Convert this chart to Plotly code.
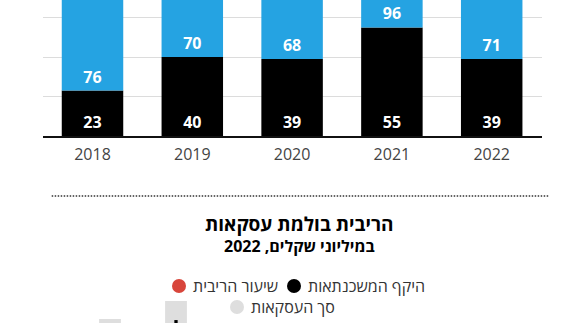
import plotly.graph_objects as go

W, H = 582, 323

# ---- top chart data ----
years = ["2018", "2019", "2020", "2021", "2022"]
mortgage_vals = [23, 40, 39, 55, 39]
deals_vals = [76, 70, 68, 96, 71]

# ---- bottom chart data (only the tops of the first bars are visible) ----
bottom_cats = ["1", "2", "3", "4", "5", "6", "7"]
bottom_total = [82.9, 95.7, 70, 66, 62, 58, 54]
bottom_mortgage = [60, 82.1, 50, 48, 45, 42, 40]
bottom_rate = [30, 35, 40, 45, 50, 55, 60]

# ---- texts ----
title_text = "הריבית בולמת עסקאות"
subtitle_text = "במיליוני שקלים, 2022"
legend_items = [
    ("שיעור הריבית", "#d8453b"),
    ("היקף המשכנתאות", "#000000"),
    ("סך העסקאות", "#dedede"),
]

BLUE = "#25a3e2"
FONT = "Open Sans, Liberation Sans, DejaVu Sans, sans-serif"

def px(x):
    return x / W

def py(y):
    return 1 - y / H

fig = go.Figure()

fig.add_trace(go.Bar(
    x=years, y=mortgage_vals, marker=dict(color="#000000", line=dict(width=0)),
    text=[str(v) for v in mortgage_vals], textposition="inside", insidetextanchor="start",
    textangle=0, textfont=dict(color="white", size=16, family=FONT, weight="bold"),
    width=0.616, xaxis="x", yaxis="y", showlegend=False, hoverinfo="skip",
))
fig.add_trace(go.Bar(
    x=years, y=deals_vals, base=mortgage_vals, marker=dict(color=BLUE, line=dict(width=0)),
    text=[str(v) for v in deals_vals], textposition="inside", insidetextanchor="start",
    textangle=0, textfont=dict(color="white", size=16, family=FONT, weight="bold"),
    width=0.616, xaxis="x", yaxis="y", showlegend=False, hoverinfo="skip",
))

# bottom chart
fig.add_trace(go.Bar(
    x=bottom_cats, y=bottom_total, marker=dict(color="#dedede", line=dict(width=0)),
    width=0.33, xaxis="x2", yaxis="y2", showlegend=False, hoverinfo="skip",
))
fig.add_trace(go.Bar(
    x=bottom_cats, y=bottom_mortgage, marker=dict(color="#000000", line=dict(width=0)),
    width=0.05, xaxis="x2", yaxis="y2", showlegend=False, hoverinfo="skip",
))
fig.add_trace(go.Scatter(
    x=bottom_cats, y=bottom_rate, mode="lines", line=dict(color="#d8453b", width=2),
    xaxis="x2", yaxis="y2", showlegend=False, hoverinfo="skip",
))

fig.update_layout(
    width=W, height=H, margin=dict(l=0, r=0, t=0, b=0),
    paper_bgcolor="white", plot_bgcolor="white",
    barmode="overlay",
    font=dict(family=FONT),
    xaxis=dict(domain=[px(42.6), px(541.6)], type="category", showgrid=False,
               showline=True, linecolor="#111", linewidth=2,
               ticks="outside", ticklen=3, tickcolor="rgba(0,0,0,0)",
               tickfont=dict(size=16, color="#444", family=FONT), anchor="y"),
    yaxis=dict(domain=[py(136), 1], range=[0, 68.9], showgrid=True, gridcolor="#dcdcdc",
               gridwidth=1, dtick=20, showticklabels=False, zeroline=False,
               showline=False, anchor="x"),
    xaxis2=dict(domain=[px(77), px(539)], type="category", showgrid=False,
                showticklabels=False, showline=False, zeroline=False, anchor="y2"),
    yaxis2=dict(domain=[0, py(295)], range=[80, 100], showgrid=False,
                showticklabels=False, zeroline=False, showline=False, anchor="x2"),
)

# dotted separator
fig.add_shape(type="line", xref="paper", yref="paper",
              x0=px(51.7), x1=px(549), y0=py(196), y1=py(196),
              line=dict(color="#333", width=1.5, dash="1.5px,1.5px"))

# titles
fig.add_annotation(text=title_text, xref="paper", yref="paper", x=px(300), y=py(224),
                   xanchor="center", yanchor="middle", showarrow=False,
                   font=dict(size=19, color="#000", family=FONT, weight="bold"))
fig.add_annotation(text=subtitle_text, xref="paper", yref="paper", x=px(300), y=py(246),
                   xanchor="center", yanchor="middle", showarrow=False,
                   font=dict(size=16, color="#000", family=FONT, weight="bold"))

# manual legend
legend_pos = [(179, 286), (294, 286), (237, 307)]
for (label, color), (cx, cy) in zip(legend_items, legend_pos):
    r = 7
    fig.add_shape(type="circle", xref="paper", yref="paper",
                  x0=px(cx - r), x1=px(cx + r), y0=py(cy + r), y1=py(cy - r),
                  fillcolor=color, line=dict(width=0))
    fig.add_annotation(text=label, xref="paper", yref="paper", x=px(cx + 12), y=py(cy),
                       xanchor="left", yanchor="middle", showarrow=False,
                       font=dict(size=16, color="#333", family=FONT))

fig.write_html("out.html")
